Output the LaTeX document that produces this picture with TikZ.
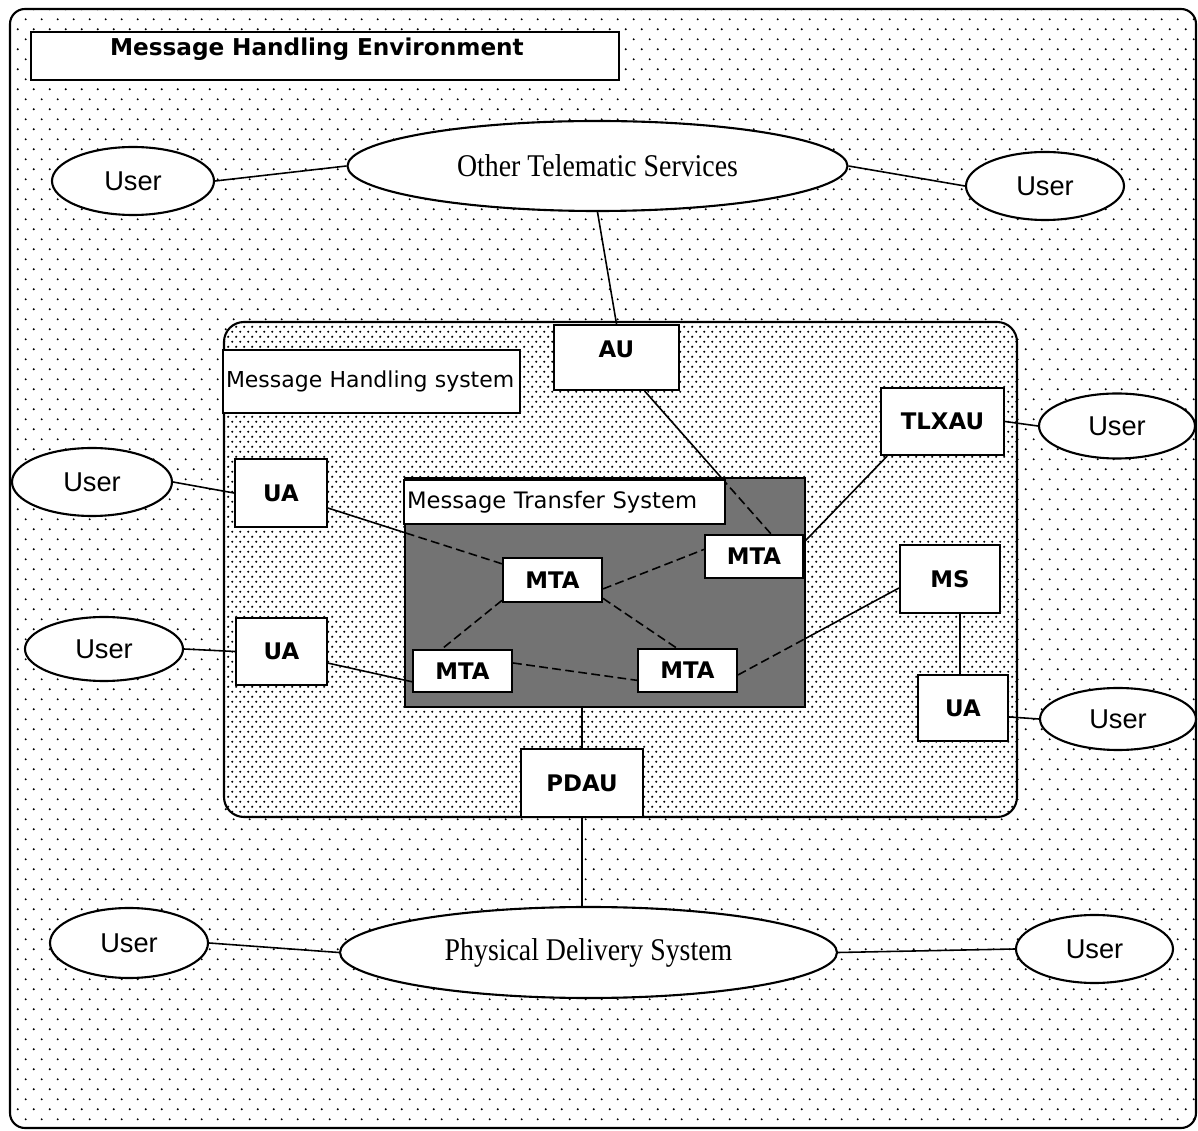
\documentclass[tikz,border=0pt]{standalone}
\usepackage{fontspec}
\setmainfont{Liberation Serif}
\newfontfamily\boxfont{DejaVu Sans}
\newfontfamily\userfont{Liberation Sans}
\newfontfamily\svcfont{Liberation Serif}[FakeStretch=0.88]
\usetikzlibrary{shapes.geometric,patterns,calc}

% sparse staggered dots for the environment, denser ones for the MHS
\pgfdeclarepatternformonly{outerdots}{\pgfqpoint{0pt}{0pt}}{\pgfqpoint{9.07pt}{11.34pt}}{\pgfqpoint{9.07pt}{11.34pt}}{%
  \pgfpathcircle{\pgfqpoint{1pt}{1pt}}{0.62pt}%
  \pgfpathcircle{\pgfqpoint{5.535pt}{6.67pt}}{0.62pt}%
  \pgfusepath{fill}}
\pgfdeclarepatternformonly{densedots}{\pgfqpoint{0pt}{0pt}}{\pgfqpoint{4.54pt}{5.67pt}}{\pgfqpoint{4.54pt}{5.67pt}}{%
  \pgfpathcircle{\pgfqpoint{0.7pt}{0.7pt}}{0.66pt}%
  \pgfpathcircle{\pgfqpoint{2.97pt}{3.535pt}}{0.66pt}%
  \pgfusepath{fill}}

\pgfdeclarelayer{back}
\pgfdeclarelayer{wires}
\pgfsetlayers{back,wires,main}

\tikzset{
  sz/.style 2 args={minimum width=#1*0.02cm, minimum height=#2*0.02cm},
  unit/.style={draw, fill=white, line width=1.2pt, inner sep=0pt,
    font=\boxfont\bfseries\fontsize{13}{15}\selectfont},
  user/.style={ellipse, draw, fill=white, line width=1.2pt, inner sep=0pt,
    font=\userfont\fontsize{15.5}{17}\selectfont},
  service/.style={ellipse, draw, fill=white, line width=1.2pt, inner sep=0pt,
    font=\svcfont\fontsize{18}{20}\selectfont},
  caption/.style={draw, fill=white, line width=1.2pt, inner ysep=0pt,
    inner xsep=3*0.02cm, align=left,
    font=\boxfont\fontsize{12.5}{15}\selectfont},
  wire/.style={line width=0.9pt},
  inner wire/.style={wire, dash pattern=on 5pt off 2.5pt},
}

\begin{document}
\begin{tikzpicture}[x=0.02cm,y=-0.02cm]
\useasboundingbox (0,0) rectangle (1198,1131);

\begin{pgfonlayer}{back}
  \fill[white] (0,0) rectangle (1198,1131);
  % environment frame
  \node[draw, line width=1.2pt, rounded corners=0.3cm, pattern=outerdots,
        sz={1186}{1119}] (mhe) at (603,568.5) {};
  % message handling system
  \node[draw, line width=1.2pt, rounded corners=0.4cm,
        preaction={fill=white}, pattern=densedots,
        sz={793}{495}] (mhs) at (620.5,569.5) {};
  % message transfer system
  \node[draw, line width=1.2pt, fill=black!55, sz={400}{229}] (mts) at (605,592.5) {};
\end{pgfonlayer}

% captions
\node[draw, fill=white, line width=1.2pt, inner ysep=0pt, inner xsep=79*0.02cm,
      text width=430*0.02cm, align=left, minimum height=48*0.02cm,
      text height=0.2cm, text depth=0.2cm,
      font=\boxfont\bfseries\fontsize{13.2}{15}\selectfont]
      (title) at (325,56) {\mbox{Message Handling Environment}};
\node[caption, text width=291*0.02cm, minimum height=63*0.02cm]
      (mhsLabel) at (371.5,381.5) {\mbox{Message Handling system}};
\node[caption, text width=315*0.02cm, minimum height=44*0.02cm,
      font=\boxfont\fontsize{12.9}{15}\selectfont]
      (mtsLabel) at (564.5,502) {\mbox{Message Transfer System}};

% services
\node[service, sz={500}{90}] (ots) at (597.5,166) {Other Telematic Services};
\node[service, sz={497}{91}] (pds) at (588.5,952.5) {Physical Delivery System};

% users
\node[user, sz={162}{68}] (uL0) at (133,181) {User};
\node[user, sz={158}{68}] (uR0) at (1045,186) {User};
\node[user, sz={156}{65}] (uR1) at (1117,426) {User};
\node[user, sz={160}{68}] (uL1) at (92,482) {User};
\node[user, sz={158}{64}] (uL2) at (104,649) {User};
\node[user, sz={156}{62}] (uR2) at (1118,719) {User};
\node[user, sz={158}{70}] (uL3) at (129,943) {User};
\node[user, sz={157}{68}] (uR3) at (1094.5,949) {User};

% functional units
\node[unit, sz={125}{65}, text height=0.25cm, text depth=0.25cm] (au) at (616.5,357.5) {AU};
\node[unit, sz={123}{67}] (tlxau) at (942.5,421.5) {TLXAU};
\node[unit, sz={92}{68}] (ua1) at (281,493) {UA};
\node[unit, sz={91}{67}] (ua2) at (281.5,651.5) {UA};
\node[unit, sz={90}{66}] (ua3) at (963,708) {UA};
\node[unit, sz={100}{68}] (ms) at (950,579) {MS};
\node[unit, sz={122}{68}] (pdau) at (582,783) {PDAU};
\node[unit, sz={99}{44}] (mtaC) at (552.5,580) {MTA};
\node[unit, sz={98}{43}] (mtaTR) at (754,556.5) {MTA};
\node[unit, sz={99}{42}] (mtaBL) at (462.5,671) {MTA};
\node[unit, sz={99}{43}] (mtaBR) at (687.5,670.5) {MTA};

\begin{pgfonlayer}{wires}
  % outside the MHS
  \draw[wire] (uL0.east) -- (ots.west);
  \draw[wire] (ots.east) -- (uR0.west);
  \draw[wire] (ots.south) -- (au.north);
  \draw[wire] (uL1.east) -- (ua1.west);
  \draw[wire] (uL2.east) -- (ua2.west);
  \draw[wire] (tlxau.east) -- (uR1.west);
  \draw[wire] (ua3.-11) -- (uR2.west);
  \draw[wire] (pdau.south) -- (pdau.south |- pds.north);
  \draw[wire] (uL3.east) -- (pds.west);
  \draw[wire] (pds.east) -- (uR3.west);
  % into the MTS: solid outside, broken inside
  \coordinate (x1) at ($(ua1.center)!0.46!(mtaC.center)$);
  \draw[wire] (ua1) -- (x1);
  \draw[inner wire] (x1) -- (mtaC);
  \draw[wire] (ua2.-14) -- (mtaBL.192);
  \coordinate (x2) at ($(au.-50)!0.607!(mtaTR.53)$);
  \draw[wire] (au.-50) -- (x2);
  \draw[inner wire] (x2) -- (mtaTR.53);
  \coordinate (x3) at ($(mtaBR.-5)!0.417!(ms.190)$);
  \draw[inner wire] (mtaBR.-5) -- (x3);
  \draw[wire] (x3) -- (ms.190);
  \draw[wire] (mtaTR.16) -- (tlxau.212);
  \draw[wire] (ua3.95) -- (ua3.95 |- ms.south);
  \draw[wire] (pdau.north) -- (pdau.north |- mts.south);
  % MTA mesh
  \draw[inner wire] (mtaC.-10) -- (mtaTR.172);
  \draw[inner wire] (mtaC.-20) -- (mtaBR.116);
  \draw[inner wire] (mtaC.202) -- (mtaBL.133);
  \draw[inner wire] (mtaBL.9) -- (mtaBR.191);
\end{pgfonlayer}
\end{tikzpicture}
\end{document}
